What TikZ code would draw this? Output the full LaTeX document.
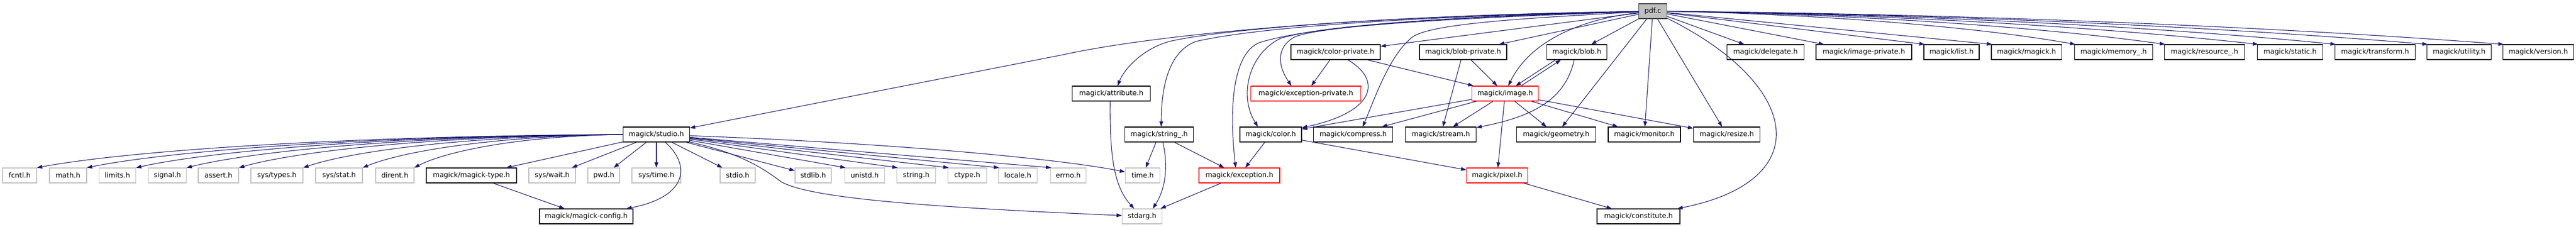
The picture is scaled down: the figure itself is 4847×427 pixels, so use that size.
\documentclass[tikz,border=0pt]{standalone}
\usepackage{fontspec}
\setmainfont{DejaVu Sans}
\usetikzlibrary{arrows.meta}
\definecolor{edgeblue}{RGB}{25,25,112}
\definecolor{sysgray}{RGB}{191,191,191}
\definecolor{rootfill}{RGB}{191,191,191}
\begin{document}
\begin{tikzpicture}[x=1pt,y=-1pt,
  box/.style={rectangle, draw, line width=1.1pt, minimum height=28pt, inner sep=0pt, fill=white, font=\fontsize{13}{15}\selectfont},
  docbox/.style={box, draw=black},
  redbox/.style={box, draw=red},
  sysbox/.style={box, draw=sysgray},
  rootbox/.style={box, draw=black!75, fill=rootfill},
  dep/.style={draw=edgeblue, line width=1.1pt, -{Triangle[length=10pt,width=7pt]}},
]
\useasboundingbox (0,0) rectangle (4847,427);
% row 0
\node[rootbox, minimum width=53] (pdf) at (3110,21) {pdf.c};
% row 1
\node[docbox, minimum width=168] (colorpriv) at (2513,98) {magick/color-private.h};
\node[docbox, minimum width=164] (blobpriv) at (2753,98) {magick/blob-private.h};
\node[docbox, minimum width=113] (blob) at (2967,98) {magick/blob.h};
\node[docbox, minimum width=145] (delegate) at (3322,98) {magick/delegate.h};
\node[docbox, minimum width=180] (imagepriv) at (3507,98) {magick/image-private.h};
\node[docbox, minimum width=104] (list) at (3672,98) {magick/list.h};
\node[docbox, minimum width=132] (magick) at (3813,98) {magick/magick.h};
\node[docbox, minimum width=147] (memory) at (3977,98) {magick/memory\_.h};
\node[docbox, minimum width=151] (resource) at (4148,98) {magick/resource\_.h};
\node[docbox, minimum width=123] (static) at (4309,98) {magick/static.h};
\node[docbox, minimum width=151] (transform) at (4469,98) {magick/transform.h};
\node[docbox, minimum width=121] (utility) at (4627,98) {magick/utility.h};
\node[docbox, minimum width=133] (version) at (4776,98) {magick/version.h};
% row 2
\node[docbox, minimum width=147] (attribute) at (2091,176) {magick/attribute.h};
\node[redbox, minimum width=207] (excpriv) at (2457,176) {magick/exception-private.h};
\node[redbox, minimum width=125] (image) at (2832,176) {magick/image.h};
% row 3
\node[docbox, minimum width=125] (studio) at (1235,253) {magick/studio.h};
\node[docbox, minimum width=129] (stringh) at (2181,253) {magick/string\_.h};
\node[docbox, minimum width=116] (color) at (2391,253) {magick/color.h};
\node[docbox, minimum width=149] (compress) at (2546,253) {magick/compress.h};
\node[docbox, minimum width=133] (stream) at (2711,253) {magick/stream.h};
\node[docbox, minimum width=149] (geometry) at (2928,253) {magick/geometry.h};
\node[docbox, minimum width=136] (monitor) at (3094,253) {magick/monitor.h};
\node[docbox, minimum width=125] (resize) at (3249,253) {magick/resize.h};
% row 4
\node[sysbox, minimum width=64] (fcntl) at (37,330) {fcntl.h};
\node[sysbox, minimum width=70] (math) at (128,330) {math.h};
\node[sysbox, minimum width=69] (limits) at (221,330) {limits.h};
\node[sysbox, minimum width=71] (signal) at (315,330) {signal.h};
\node[sysbox, minimum width=76] (assert) at (411,330) {assert.h};
\node[sysbox, minimum width=98] (systypes) at (521,330) {sys/types.h};
\node[sysbox, minimum width=88] (sysstat) at (638,330) {sys/stat.h};
\node[sysbox, minimum width=72] (dirent) at (743,330) {dirent.h};
\node[docbox, minimum width=170] (magicktype) at (887,330) {magick/magick-type.h};
\node[sysbox, minimum width=88] (syswait) at (1039,330) {sys/wait.h};
\node[sysbox, minimum width=60] (pwd) at (1136,330) {pwd.h};
\node[sysbox, minimum width=92] (systime) at (1235,330) {sys/time.h};
\node[sysbox, minimum width=66] (stdio) at (1388,330) {stdio.h};
\node[sysbox, minimum width=68] (stdlib) at (1530,330) {stdlib.h};
\node[sysbox, minimum width=75] (unistd) at (1627,330) {unistd.h};
\node[sysbox, minimum width=73] (stringsys) at (1724,330) {string.h};
\node[sysbox, minimum width=73] (ctype) at (1820,330) {ctype.h};
\node[sysbox, minimum width=73] (locale) at (1915,330) {locale.h};
\node[sysbox, minimum width=67] (errno) at (2010,330) {errno.h};
\node[sysbox, minimum width=65] (time) at (2150,330) {time.h};
\node[redbox, minimum width=152] (exception) at (2332,330) {magick/exception.h};
\node[redbox, minimum width=115] (pixel) at (2817,330) {magick/pixel.h};
% row 5
\node[docbox, minimum width=176] (config) at (1103,407) {magick/magick-config.h};
\node[sysbox, minimum width=75] (stdarg) at (2149,407) {stdarg.h};
\node[docbox, minimum width=156] (constitute) at (3083,407) {magick/constitute.h};

% pdf.c -> left group
\draw[dep] (pdf) .. controls (2500,30) and (2150,70) .. (2000,103) -- (studio);
\draw[dep] (pdf) .. controls (2600,30) and (2300,55) .. (2200,78) .. controls (2150,92) and (2115,130) .. ([xshift=12pt]attribute.north);
\draw[dep] (pdf) .. controls (2600,32) and (2350,55) .. (2250,78) .. controls (2205,95) and (2185,150) .. ([xshift=4pt]stringh.north);
\draw[dep] (pdf) .. controls (2650,32) and (2450,55) .. (2370,80) .. controls (2320,100) and (2312,200) .. ([xshift=-7pt]exception.north);
\draw[dep] (pdf) .. controls (2700,32) and (2480,50) .. (2410,72) .. controls (2350,100) and (2330,180) .. ([xshift=-24pt]color.north);
\draw[dep] (pdf) .. controls (2700,35) and (2480,50) .. (2435,70) .. controls (2400,90) and (2405,125) .. ([xshift=-27pt]excpriv.north);
\draw[dep] (pdf) -- (colorpriv);
\draw[dep] (pdf) .. controls (2850,35) and (2700,45) .. (2660,68) .. controls (2615,100) and (2585,190) .. ([xshift=18pt]compress.north);
\draw[dep] (pdf) -- (blobpriv);
\draw[dep] (pdf) .. controls (2980,35) and (2880,75) .. ([xshift=6pt]image.north);
\draw[dep] (pdf) -- (blob);
\draw[dep] (pdf) -- (geometry);
\draw[dep] (pdf) -- (monitor);
\draw[dep] (pdf) -- (resize);
\draw[dep] (pdf) .. controls (3390,160) and (3420,340) .. (constitute);
% pdf.c -> right group
\draw[dep] (pdf) -- (delegate);
\draw[dep] (pdf) -- (imagepriv);
\draw[dep] (pdf) -- ([xshift=2pt]list.north west);
\draw[dep] (pdf) -- ([xshift=2pt]magick.north west);
\draw[dep] (pdf) .. controls (3413,26) and (3717,50) .. ([xshift=2pt]memory.north west);
\draw[dep] (pdf) .. controls (3473,26) and (3837,50) .. ([xshift=2pt]resource.north west);
\draw[dep] (pdf) .. controls (3530,26) and (3949,50) .. ([xshift=2pt]static.north west);
\draw[dep] (pdf) .. controls (3586,26) and (4061,50) .. ([xshift=2pt]transform.north west);
\draw[dep] (pdf) .. controls (3641,26) and (4172,50) .. ([xshift=2pt]utility.north west);
\draw[dep] (pdf) .. controls (3693,26) and (4276,50) .. ([xshift=2pt]version.north west);

% studio.h
\draw[dep] (studio.west) .. controls (620,256) and (234,285) .. (fcntl.north east);
\draw[dep] (studio.west) .. controls (668,256) and (314,285) .. (math.north east);
\draw[dep] (studio.west) .. controls (714,256) and (393,285) .. (limits.north east);
\draw[dep] (studio.west) .. controls (761,256) and (474,285) .. (signal.north east);
\draw[dep] (studio.west) .. controls (810,256) and (557,285) .. (assert.north east);
\draw[dep] (studio.west) .. controls (871,256) and (660,285) .. (systypes.north east);
\draw[dep] (studio.west) .. controls (927,256) and (756,285) .. (sysstat.north east);
\draw[dep] (studio.west) .. controls (975,256) and (838,285) .. (dirent.north east);
\draw[dep] (studio) -- (magicktype);
\draw[dep] (studio) -- (syswait);
\draw[dep] (studio) -- (pwd);
\draw[dep] (studio) -- (systime);
\draw[dep] (studio) .. controls (1300,310) and (1295,370) .. (config);
\draw[dep] (studio) -- (stdio);
\draw[dep] (studio) -- (stdlib);
\draw[dep] (studio) -- ([xshift=2pt]unistd.north west);
\draw[dep] (studio) -- ([xshift=2pt]stringsys.north west);
\draw[dep] (studio) -- ([xshift=2pt]ctype.north west);
\draw[dep] (studio) -- ([xshift=2pt]locale.north west);
\draw[dep] (studio) -- ([xshift=2pt]errno.north west);
\draw[dep] (studio) .. controls (1700,270) and (2000,300) .. (time);
\draw[dep] (studio) .. controls (1400,290) and (1440,320) .. (1470,342) .. controls (1520,370) and (1700,388) .. (stdarg);
\draw[dep] (magicktype) -- (config);

% attribute, string_, exception
\draw[dep] ([xshift=-2pt]attribute.south) .. controls (2088,290) and (2095,350) .. ([xshift=-15pt]stdarg.north);
\draw[dep] (stringh) -- (time);
\draw[dep] ([xshift=7pt]stringh.south) .. controls (2200,320) and (2190,360) .. ([xshift=20pt]stdarg.north);
\draw[dep] (stringh) -- (exception);
\draw[dep] (exception) -- (stdarg);

% color-private, blob-private, blob
\draw[dep] (colorpriv) -- (excpriv);
\draw[dep] ([xshift=23pt]colorpriv.south) .. controls (2600,150) and (2590,210) .. (color);
\draw[dep] (colorpriv) -- (image);
\draw[dep] (blobpriv) -- (stream);
\draw[dep] (blobpriv) -- (image);
\draw[dep] ([xshift=-40pt]blob.south) -- ([xshift=20pt]image.north);
\draw[dep] ([xshift=30pt]image.north) -- ([xshift=-30pt]blob.south);
\draw[dep] ([xshift=-5pt]blob.south) .. controls (2945,190) and (2880,220) .. (stream);

% image.h
\draw[dep] (image) -- (color);
\draw[dep] (image) -- (compress);
\draw[dep] (image) -- (stream);
\draw[dep] (image) -- (geometry);
\draw[dep] (image) -- (monitor);
\draw[dep] (image) -- (resize);
\draw[dep] (image) -- (pixel);

% color.h, pixel.h
\draw[dep] (color) -- (exception);
\draw[dep] (color) -- (pixel);
\draw[dep] (pixel) -- (constitute);
\end{tikzpicture}
\end{document}
